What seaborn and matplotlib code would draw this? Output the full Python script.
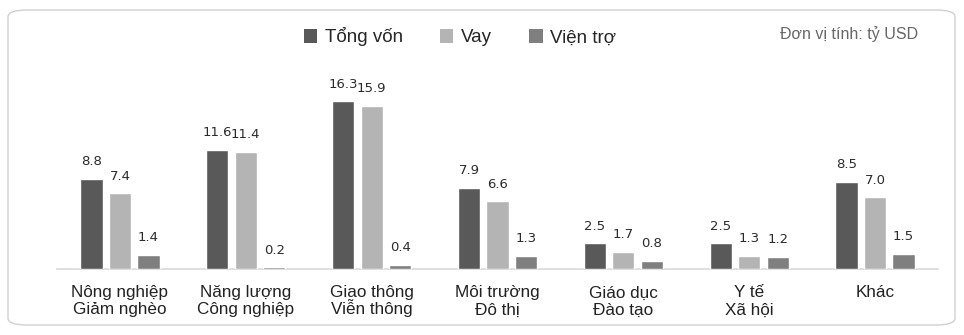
import matplotlib
matplotlib.use("Agg")
import matplotlib.pyplot as plt
import seaborn as sns
import pandas as pd
from matplotlib.patches import FancyBboxPatch, Patch

categories = ["Nông nghiệp\nGiảm nghèo", "Năng lượng\nCông nghiệp", "Giao thông\nViễn thông",
              "Môi trường\nĐô thị", "Giáo dục\nĐào tạo", "Y tế\nXã hội", "Khác"]
series = ["Tổng vốn", "Vay", "Viện trợ"]
tong_von = [8.8, 11.6, 16.3, 7.9, 2.5, 2.5, 8.5]
vay = [7.4, 11.4, 15.9, 6.6, 1.7, 1.3, 7.0]
vien_tro = [1.4, 0.2, 0.4, 1.3, 0.8, 1.2, 1.5]
unit_note = "Đơn vị tính: tỷ USD"

rows = []
for s, vals in zip(series, [tong_von, vay, vien_tro]):
    for c, v in zip(categories, vals):
        rows.append({"cat": c, "series": s, "value": v})
df = pd.DataFrame(rows)

colors = ["#595959", "#b4b4b4", "#7f7f7f"]

sns.set_theme(style="white")
plt.rcParams["font.family"] = ["Liberation Sans", "DejaVu Sans"]

fig = plt.figure(figsize=(9.64, 3.35), dpi=100)
fig.patch.set_facecolor("white")
border = FancyBboxPatch((8/964, 10/335), 947/964, 315/335, boxstyle="round,pad=0,rounding_size=0.02",
                        transform=fig.transFigure, facecolor="white", edgecolor="#d0d0d0", linewidth=1.0,
                        zorder=-5)
fig.patches.append(border)

ax = fig.add_axes([57/964, 66/335, 881/964, 185/335])
ax.set_zorder(2)
ax.set_facecolor("none")
sns.barplot(data=df, x="cat", y="value", hue="series", palette=colors, width=0.68, gap=0.22,
            ax=ax, legend=False, saturation=1, errorbar=None, zorder=3)
for cont in ax.containers:
    ax.bar_label(cont, fmt="%.1f", padding=7.5, fontsize=9.5, color="#2b2b2b", family="DejaVu Sans")
ax.set_ylim(0, 18)
ax.set_xlim(-0.5, len(categories) - 0.5)
ax.set_xlabel("")
ax.set_ylabel("")
ax.set_yticks([])
for sp in ["top", "right", "left"]:
    ax.spines[sp].set_visible(False)
ax.spines["bottom"].set_color("#d9d9d9")
ax.spines["bottom"].set_linewidth(1.2)
ax.spines["bottom"].set_zorder(1)
ax.tick_params(axis="x", length=0)
ax.set_xticks(range(len(categories)))
ax.set_xticklabels([""] * len(categories))
for i, cat in enumerate(categories):
    for k, line in enumerate(cat.split("\n")):
        ax.annotate(line, xy=(i, 0), xycoords=ax.get_xaxis_transform(),
                    xytext=(0, -20.5 - k * 12.2), textcoords="offset points",
                    ha="center", va="baseline", fontsize=12.3, color="#222222")

handles = [Patch(facecolor=c, edgecolor="none") for c in colors]
fig.legend(handles, series, loc="center", bbox_to_anchor=(460/964, 1 - 37/335), ncol=3, frameon=False,
           fontsize=13.5, handlelength=0.7, handleheight=0.7, handletextpad=0.4, columnspacing=2.0)
fig.text(918/964, 1 - 34/335, unit_note, ha="right", va="center", fontsize=11.5, color="#666666")

fig.savefig("out.png", dpi=100, facecolor="white")
